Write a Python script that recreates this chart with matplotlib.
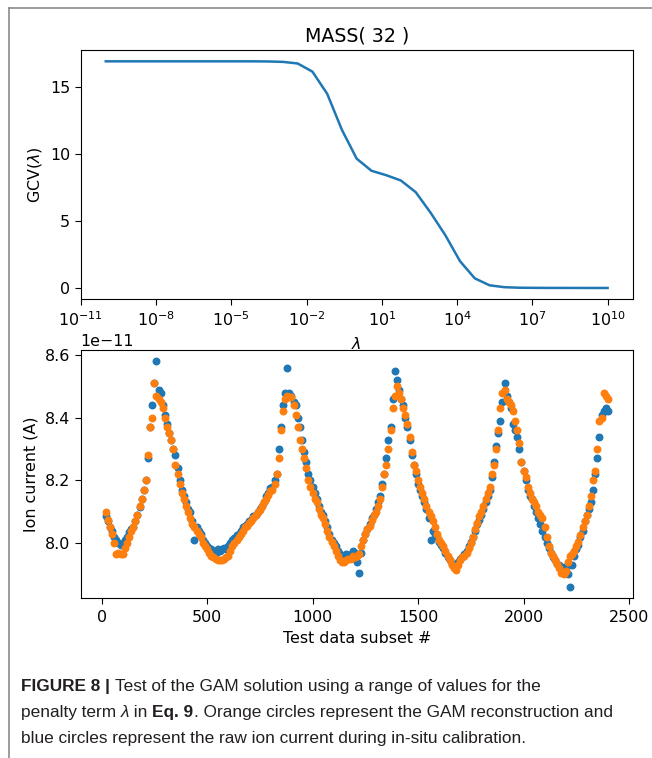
import numpy as np
import matplotlib
matplotlib.use("Agg")
import matplotlib.pyplot as plt
import matplotlib.ticker as mticker
from matplotlib import font_manager
from matplotlib.lines import Line2D

# ---------------- data ----------------
lam_exp = [-10, -9.4118, -8.8235, -8.2353, -7.6471, -7.0588, -6.4706, -5.8824,
           -5.2941, -4.7059, -4.1176, -3.5294, -2.9412, -2.3529, -1.7647, -1.1765,
           -0.5882, 0.0, 0.5882, 1.1765, 1.7647, 2.3529, 2.9412, 3.5294, 4.1176,
           4.7059, 5.2941, 5.8824, 6.4706, 7.0588, 7.6471, 8.2353, 8.8235, 9.4118, 10]
gcv = [16.92, 16.92, 16.92, 16.92, 16.92, 16.92, 16.92, 16.92, 16.92, 16.92,
       16.92, 16.91, 16.88, 16.76, 16.15, 14.5, 11.8, 9.65, 8.75, 8.42, 8.02,
       7.15, 5.63, 3.95, 2.0, 0.72, 0.2, 0.06, 0.02, 0.01, 0.005, 0.003, 0.002,
       0.001, 0.001]

subset = list(range(20, 2410, 10))

raw_current = [  # units of 1e-11 A
    8.085, 8.07, 8.05, 8.04, 8.02, 8.01, 8.0, 7.995, 8.0,
    8.01, 8.02, 8.035, 8.045, 8.05, 8.07, 8.09, 8.115, 8.14, 8.17,
    8.2, 8.27, 8.37, 8.44, 8.51, 8.58, 8.49, 8.48, 8.44, 8.41,
    8.38, 8.35, 8.33, 8.3, 8.28, 8.24, 8.2, 8.17, 8.15, 8.13,
    8.11, 8.1, 8.07, 8.01, 8.05, 8.04, 8.03, 8.01, 8.0, 7.99,
    7.985, 7.98, 7.975, 7.97, 7.98, 7.975, 7.98, 7.985, 7.98, 7.99,
    8.0, 8.01, 8.015, 8.025, 8.03, 8.04, 8.05, 8.055, 8.06, 8.07,
    8.075, 8.085, 8.09, 8.1, 8.11, 8.12, 8.13, 8.15, 8.16, 8.175,
    8.18, 8.2, 8.22, 8.3, 8.37, 8.44, 8.48, 8.56, 8.48, 8.47,
    8.45, 8.44, 8.4, 8.37, 8.33, 8.29, 8.26, 8.22, 8.2, 8.18,
    8.16, 8.14, 8.12, 8.1, 8.09, 8.07, 8.05, 8.03, 8.01, 8.0,
    7.99, 7.975, 7.965, 7.96, 7.96, 7.965, 7.96, 7.965, 7.975, 7.97,
    7.94, 7.905, 7.97, 8.01, 8.03, 8.045, 8.06, 8.08, 8.09, 8.11,
    8.13, 8.15, 8.19, 8.22, 8.27, 8.33, 8.37, 8.46, 8.55, 8.52,
    8.49, 8.46, 8.44, 8.4, 8.37, 8.33, 8.28, 8.25, 8.22, 8.19,
    8.17, 8.15, 8.13, 8.11, 8.08, 8.01, 8.04, 8.03, 8.02, 8.005,
    7.995, 7.985, 7.97, 7.955, 7.945, 7.935, 7.93, 7.935, 7.94, 7.95,
    7.955, 7.965, 7.975, 7.99, 8.005, 8.02, 8.04, 8.06, 8.075, 8.09,
    8.11, 8.13, 8.15, 8.17, 8.21, 8.26, 8.31, 8.35, 8.39, 8.45,
    8.51, 8.47, 8.45, 8.43, 8.38, 8.36, 8.34, 8.3, 8.26, 8.23,
    8.2, 8.17, 8.15, 8.14, 8.12, 8.1, 8.08, 8.06, 8.04, 8.02,
    8.0, 7.985, 7.97, 7.955, 7.945, 7.935, 7.93, 7.92, 7.925, 7.92,
    7.9, 7.86, 7.93, 7.96, 7.98, 7.995, 8.02, 8.04, 8.07, 8.09,
    8.11, 8.13, 8.17, 8.22, 8.27, 8.34, 8.41, 8.42, 8.43, 8.42]

gam_current = [  # units of 1e-11 A
    8.1, 8.075, 8.05, 8.03, 8.0, 7.965, 7.97, 7.965, 7.965,
    7.985, 8.0, 8.02, 8.04, 8.05, 8.07, 8.09, 8.12, 8.14, 8.17,
    8.2, 8.28, 8.37, 8.4, 8.51, 8.47, 8.46, 8.45, 8.43, 8.4,
    8.37, 8.35, 8.33, 8.3, 8.25, 8.22, 8.19, 8.16, 8.14, 8.12,
    8.1, 8.08, 8.06, 8.05, 8.04, 8.03, 8.02, 8.0, 7.99, 7.98,
    7.97, 7.96, 7.955, 7.95, 7.945, 7.945, 7.945, 7.95, 7.955, 7.96,
    7.975, 7.99, 8.0, 8.01, 8.02, 8.03, 8.04, 8.05, 8.055, 8.065,
    8.07, 8.08, 8.09, 8.1, 8.105, 8.12, 8.13, 8.14, 8.155, 8.165,
    8.17, 8.19, 8.22, 8.27, 8.36, 8.42, 8.46, 8.47, 8.465, 8.465,
    8.44, 8.41, 8.37, 8.33, 8.3, 8.27, 8.24, 8.2, 8.18, 8.16,
    8.14, 8.13, 8.11, 8.09, 8.08, 8.06, 8.04, 8.02, 8.005, 7.99,
    7.975, 7.96, 7.945, 7.94, 7.94, 7.945, 7.95, 7.95, 7.96, 7.955,
    7.96, 7.965, 7.99, 8.01, 8.03, 8.045, 8.055, 8.075, 8.09, 8.1,
    8.12, 8.14, 8.18, 8.22, 8.25, 8.3, 8.36, 8.43, 8.47, 8.5,
    8.48, 8.46, 8.43, 8.41, 8.38, 8.34, 8.29, 8.25, 8.23, 8.2,
    8.18, 8.16, 8.14, 8.12, 8.1, 8.085, 8.07, 8.05, 8.03, 8.01,
    8.0, 7.99, 7.975, 7.96, 7.945, 7.93, 7.92, 7.915, 7.93, 7.945,
    7.955, 7.96, 7.97, 7.985, 8.0, 8.02, 8.045, 8.065, 8.085, 8.1,
    8.12, 8.14, 8.16, 8.18, 8.22, 8.25, 8.3, 8.36, 8.43, 8.48,
    8.49, 8.46, 8.45, 8.44, 8.42, 8.39, 8.36, 8.32, 8.26, 8.23,
    8.21, 8.18, 8.16, 8.14, 8.13, 8.12, 8.1, 8.09, 8.08, 8.05,
    8.02, 7.99, 7.97, 7.96, 7.945, 7.935, 7.92, 7.905, 7.9, 7.91,
    7.94, 7.96, 7.965, 7.975, 7.99, 8.005, 8.025, 8.05, 8.07, 8.09,
    8.12, 8.15, 8.2, 8.23, 8.3, 8.39, 8.4, 8.48, 8.47, 8.46]

x_ticks_exp = [-11, -8, -5, -2, 1, 4, 7, 10]

# ---------------- figure ----------------
plt.rcParams["font.size"] = 11.4
plt.rcParams["axes.titlesize"] = 13.7
plt.rcParams["xtick.major.size"] = 4
plt.rcParams["ytick.major.size"] = 4
plt.rcParams["xtick.major.pad"] = 4.2
plt.rcParams["axes.labelpad"] = 4.6

W, H = 652, 758
fig = plt.figure(figsize=(W / 100, H / 100), dpi=100)

def rect(l, t, r, b):
    return [l / W, 1 - b / H, (r - l) / W, (b - t) / H]

blue = "#1f77b4"
orange = "#ff7f0e"

# top panel
ax1 = fig.add_axes(rect(80.7, 50, 632.7, 299.3))
ax1.plot(10.0 ** np.array(lam_exp), gcv, color=blue, lw=1.8)
ax1.set_xscale("log")
ax1.set_xlim(1e-11, 1e11)
ax1.set_xticks([10.0 ** e for e in x_ticks_exp])
ax1.xaxis.set_major_formatter(mticker.LogFormatterSciNotation())
ax1.xaxis.set_minor_locator(mticker.NullLocator())
ax1.set_yticks([0, 5, 10, 15])
ax1.set_title("MASS( 32 )")
ax1.set_ylabel(r"GCV($\lambda$)")
ax1.set_xlabel(r"$\lambda$")

# bottom panel
ax2 = fig.add_axes(rect(80.7, 350, 633, 598.3))
ax2.scatter(subset, np.array(raw_current) * 1e-11, s=22, color=blue, zorder=2)
ax2.scatter(subset, np.array(gam_current) * 1e-11, s=22, color=orange, zorder=3)
ax2.set_xticks([0, 500, 1000, 1500, 2000, 2500])
ax2.set_ylabel("Ion current (A)")
ax2.set_xlabel("Test data subset #")

# frame lines (left and top only)
fig.add_artist(Line2D([9.3 / W, 9.3 / W], [0, 1 - 8.3 / H], color="#8a8a8a", lw=1.2))
fig.add_artist(Line2D([9.3 / W, 1], [1 - 8.3 / H, 1 - 8.3 / H], color="#8a8a8a", lw=1.2))

# ---------------- caption ----------------
def pick_font():
    for fam in ["Liberation Sans Narrow", "Liberation Sans", "DejaVu Sans"]:
        try:
            font_manager.findfont(font_manager.FontProperties(family=fam),
                                  fallback_to_default=False)
            return fam
        except Exception:
            continue
    return "DejaVu Sans"

cap_font = pick_font()
cap_size = 14.4 if cap_font == "Liberation Sans Narrow" else 12.4
renderer = fig.canvas.get_renderer()

def text_width(s, weight, style):
    t1 = fig.text(0, 0, s + "|", fontsize=cap_size, family=cap_font, weight=weight, style=style)
    t2 = fig.text(0, 0, "|", fontsize=cap_size, family=cap_font, weight=weight, style=style)
    w = t1.get_window_extent(renderer).width - t2.get_window_extent(renderer).width
    t1.remove(); t2.remove()
    return w

caption_lines = [
    [("FIGURE 8 | ", "bold", "normal"),
     ("Test of the GAM solution using a range of values for the", "normal", "normal")],
    [("penalty term ", "normal", "normal"), ("λ", "normal", "italic"),
     (" in ", "normal", "normal"), ("Eq. 9", "bold", "normal"),
     (". Orange circles represent the GAM reconstruction and", "normal", "normal")],
    [("blue circles represent the raw ion current during in-situ calibration.", "normal", "normal")],
]
line_centers = [685, 711, 737]
for pieces, yc in zip(caption_lines, line_centers):
    x = 21.0
    for s, weight, style in pieces:
        fig.text(x / W, 1 - yc / H, s, fontsize=cap_size, family=cap_font,
                 weight=weight, style=style, va="center_baseline", color="#231f20")
        x += text_width(s, weight, style)

fig.savefig("out.png", dpi=100)
